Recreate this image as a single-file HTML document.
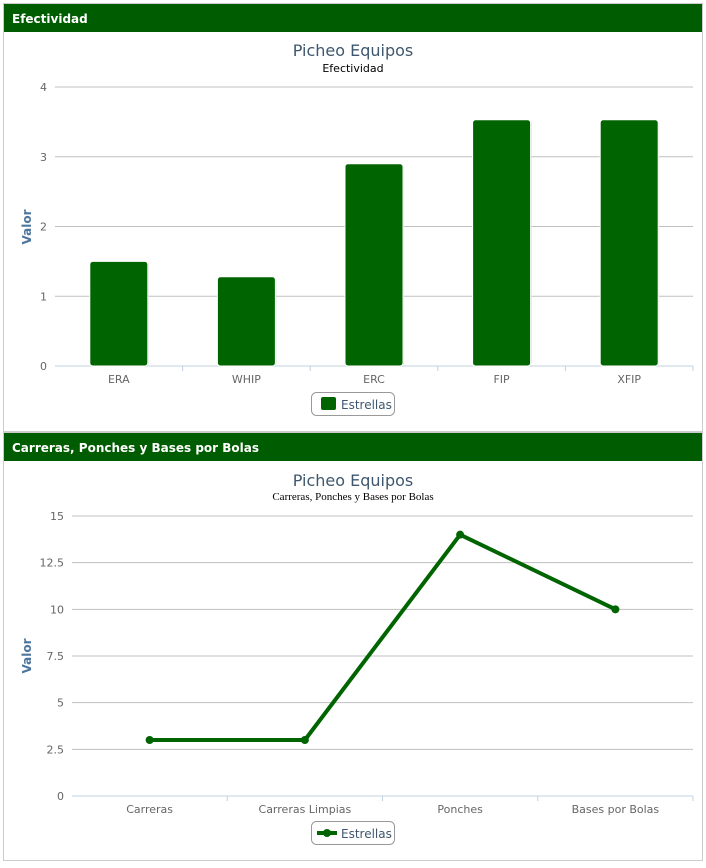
<!DOCTYPE html>
<html><head><meta charset="utf-8"><style>
body{margin:0;background:#fff;font-family:"DejaVu Sans","Liberation Sans",sans-serif}
svg text{font-family:"DejaVu Sans","Liberation Sans",sans-serif}
</style></head><body>
<svg width="706" height="864" id="s">
<rect x="3.5" y="3.5" width="699" height="428" fill="#fff" stroke="#ccc"/>
<rect x="4" y="4" width="698" height="28" fill="#005c00"/>
<text x="12" y="23" fill="#fff" font-size="12" font-weight="bold">Efectividad</text>
<rect x="3.5" y="432.5" width="699" height="428" fill="#fff" stroke="#ccc"/>
<rect x="4" y="433" width="698" height="28" fill="#005c00"/>
<text x="12" y="452" fill="#fff" font-size="12" font-weight="bold">Carreras, Ponches y Bases por Bolas</text>
<text x="353" y="56" text-anchor="middle" fill="#3e576f" font-size="16">Picheo Equipos</text>
<text x="353" y="72" text-anchor="middle" fill="#000" font-size="11">Efectividad</text>
<text x="353" y="486" text-anchor="middle" fill="#3e576f" font-size="16">Picheo Equipos</text>
<text x="353" y="500" text-anchor="middle" fill="#000" font-size="11" font-family="Liberation Serif" style="font-family:'Liberation Serif',serif">Carreras, Ponches y Bases por Bolas</text>
<g id="c1"></g><g id="c2"></g>
</svg>
<script>
const cats1=["ERA","WHIP","ERC","FIP","XFIP"];
const vals1=[1.5,1.28,2.9,3.53,3.53];
const ticks1=[0,1,2,3,4];
const cats2=["Carreras","Carreras Limpias","Ponches","Bases por Bolas"];
const vals2=[3,3,14,10];
const ticks2=[0,2.5,5,7.5,10,12.5,15];
const NS="http://www.w3.org/2000/svg";
function mk(p,t,a,txt){const e=document.createElementNS(NS,t);for(const k in a)e.setAttribute(k,a[k]);if(txt!=null)e.textContent=txt;p.appendChild(e);return e;}
function axes(g,x0,x1,y0,y1,max,ticks,cats){
 const ys=v=>y0-(v/max)*(y0-y1);
 ticks.forEach(t=>{const y=ys(t);
  const l=mk(g,"line",{x1:x0,x2:x1,y1:y,y2:y,stroke:t===0?"#c0d0e0":"#c0c0c0","stroke-width":1});
  
  const tx=mk(g,"text",{x:x0-8,y:y+4,"text-anchor":"end","font-size":11,fill:"#666"},String(t));
  });
 const w=(x1-x0)/cats.length;
 cats.forEach((c,i)=>{
  const tk=mk(g,"line",{x1:x0+w*(i+1),x2:x0+w*(i+1),y1:y0,y2:y0+5,stroke:"#c0d0e0"});
  
  const tx=mk(g,"text",{x:x0+w*(i+.5),y:y0+17,"text-anchor":"middle","font-size":11,fill:"#666"},c);
  });
 return {ys,w};
}
// chart 1
(function(){const g=document.getElementById("c1");const x0=55,x1=693,y0=366,y1=87;
 const {ys,w}=axes(g,x0,x1,y0,y1,4,ticks1,cats1);
 const yt=mk(g,"text",{x:31,y:227,"text-anchor":"middle","font-size":12,"font-weight":"bold",fill:"#4d759e",transform:"rotate(-90 31 227)"},"Valor");
 
 vals1.forEach((v,i)=>{const cx=x0+w*(i+.5),bw=58,top=ys(v);
  const sh=mk(g,"rect",{x:cx-bw/2+1,y:top+1,width:bw,height:y0-top-1,rx:3,fill:"#d8d8d8"});
  
  const b=mk(g,"rect",{x:cx-bw/2,y:top,width:bw,height:y0-top,rx:3,fill:"#006400",stroke:"#fff","stroke-width":1});
  });
 const lg=mk(g,"g",{});
 mk(lg,"rect",{x:311.5,y:392.5,width:83,height:23,rx:5,fill:"#fff",stroke:"#999"});
 mk(lg,"rect",{x:321,y:397,width:15,height:13,rx:2,fill:"#006400"});
 mk(lg,"text",{x:341,y:409,"font-size":12,fill:"#3e576f"},"Estrellas");
})();
// chart 2
(function(){const g=document.getElementById("c2");const x0=72,x1=693,y0=796,y1=516;
 const {ys,w}=axes(g,x0,x1,y0,y1,15,ticks2,cats2);
 const yt=mk(g,"text",{x:31,y:656,"text-anchor":"middle","font-size":12,"font-weight":"bold",fill:"#4d759e",transform:"rotate(-90 31 656)"},"Valor");
 
 const pts=vals2.map((v,i)=>[x0+w*(i+.5),ys(v)]);
 const ln=mk(g,"polyline",{points:pts.map(p=>p.join(",")).join(" "),fill:"none",stroke:"#006400","stroke-width":4,"stroke-linejoin":"round"});
 
 pts.forEach((p,i)=>{const c=mk(g,"circle",{cx:p[0],cy:p[1],r:4,fill:"#006400"});
  });
 const lg=mk(g,"g",{});
 mk(lg,"rect",{x:311.5,y:821.5,width:83,height:23,rx:5,fill:"#fff",stroke:"#999"});
 mk(lg,"line",{x1:317,x2:337,y1:833,y2:833,stroke:"#006400","stroke-width":4});
 mk(lg,"circle",{cx:327,cy:833,r:4,fill:"#006400"});
 mk(lg,"text",{x:341,y:838,"font-size":12,fill:"#3e576f"},"Estrellas");
})();
</script>
</body></html>
